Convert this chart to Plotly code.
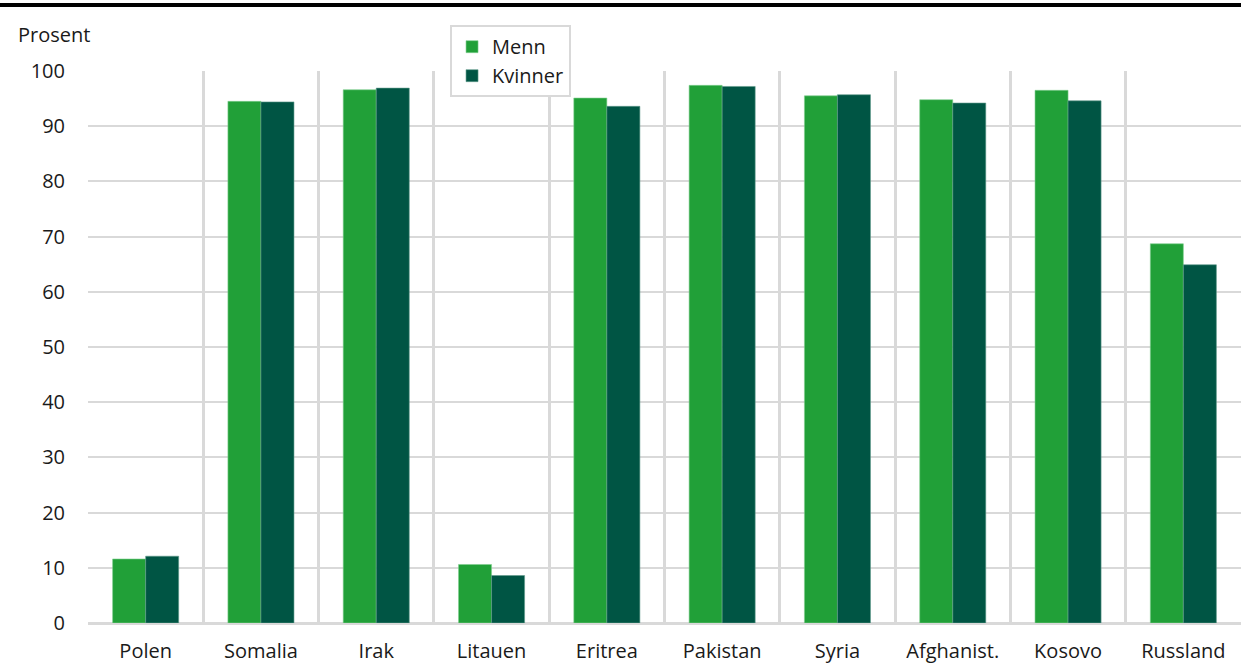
import plotly.graph_objects as go

categories = ["Polen", "Somalia", "Irak", "Litauen", "Eritrea", "Pakistan",
              "Syria", "Afghanist.", "Kosovo", "Russland"]
menn = [11.6, 94.5, 96.6, 10.6, 95.1, 97.4, 95.5, 94.8, 96.5, 68.7]
kvinner = [12.1, 94.4, 96.9, 8.6, 93.6, 97.2, 95.7, 94.2, 94.6, 64.9]
y_ticks = [0, 10, 20, 30, 40, 50, 60, 70, 80, 90, 100]

GREEN = "#21a038"
DARK = "#005544"
GRID = "#d9d9d9"
FONT = "Open Sans"
FS = 20

fig = go.Figure()
fig.add_trace(go.Bar(x=categories, y=menn, name="Menn", marker_color=GREEN,
                     marker_line=dict(width=0.6, color="#7fcf8f")))
fig.add_trace(go.Bar(x=categories, y=kvinner, name="Kvinner", marker_color=DARK,
                     marker_line=dict(width=0.6, color="#5f9a8c")))

fig.update_layout(
    width=1241, height=666,
    margin=dict(l=88, r=0, t=71, b=43),
    paper_bgcolor="white", plot_bgcolor="white",
    barmode="group", bargap=0.427, bargroupgap=0,
    font=dict(family=FONT, size=FS, color="#1a1a1a"),
    legend=dict(x=0.314, y=1.083, xanchor="left", yanchor="top",
                bordercolor=GRID, borderwidth=2, bgcolor="white",
                font=dict(size=FS), itemwidth=30, tracegroupgap=0),
    showlegend=True,
)
fig.update_xaxes(
    type="category", tickson="boundaries", showgrid=True, gridcolor=GRID,
    gridwidth=2.5, ticks="", showline=False, zeroline=False, automargin=False,
    ticklabelstandoff=14, tickfont=dict(size=FS),
)
fig.update_yaxes(
    range=[0, 100], tickvals=y_ticks, showgrid=True, gridcolor=GRID,
    gridwidth=2, zeroline=True, zerolinecolor=GRID, zerolinewidth=3,
    showline=False, ticks="", ticklabelstandoff=22, tickfont=dict(size=FS),
    automargin=False,
)
fig.add_annotation(text="Prosent", xref="paper", yref="paper", x=-88/1153 + 16/1153,
                   y=1 + (71 - 34) / 552, xanchor="left", yanchor="middle",
                   showarrow=False, font=dict(size=FS))
fig.add_shape(type="line", xref="paper", yref="paper", x0=-88/1153, x1=1,
              y0=1 + (71 - 5) / 552, y1=1 + (71 - 5) / 552,
              line=dict(color="black", width=4))

fig.write_html("out.html", config={"displayModeBar": False},
               post_script="document.body.style.margin='0';document.body.style.padding='0';")
